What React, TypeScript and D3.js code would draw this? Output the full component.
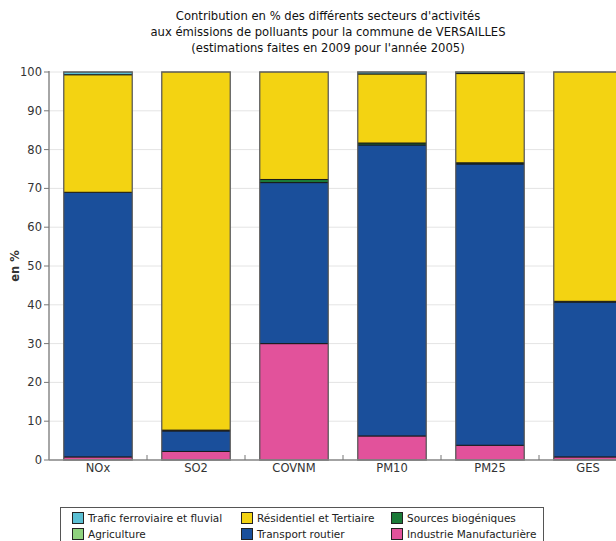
import React, { useEffect, useRef } from "react";
import * as d3 from "d3";

const categories = ["NOx", "SO2", "COVNM", "PM10", "PM25", "GES"];
const industrie = [0.8, 2.2, 30, 6.2, 3.8, 0.8];
const transport = [68.2, 5.3, 41.5, 75.0, 72.5, 39.9];
const biogeniques = [0, 0.2, 0.8, 0.5, 0.3, 0.2];
const residentiel = [30.3, 92.3, 27.7, 17.8, 23.0, 59.1];
const agriculture = [0, 0, 0, 0, 0, 0];
const ferroviaire = [0.7, 0, 0, 0.5, 0.4, 0];
const yTicks = [0, 10, 20, 30, 40, 50, 60, 70, 80, 90, 100];

const seriesNames = [
  "Industrie Manufacturière",
  "Transport routier",
  "Sources biogéniques",
  "Résidentiel et Tertiaire",
  "Agriculture",
  "Trafic ferroviaire et fluvial",
];
const seriesValues = [industrie, transport, biogeniques, residentiel, agriculture, ferroviaire];
const colors: Record<string, string> = {
  "Trafic ferroviaire et fluvial": "#5bbfd3",
  "Agriculture": "#8fd27e",
  "Résidentiel et Tertiaire": "#f3d312",
  "Transport routier": "#1a4f9b",
  "Sources biogéniques": "#1b7a38",
  "Industrie Manufacturière": "#e2529b",
};
const legendOrder = [
  ["Trafic ferroviaire et fluvial", "Agriculture"],
  ["Résidentiel et Tertiaire", "Transport routier"],
  ["Sources biogéniques", "Industrie Manufacturière"],
];

export default function App() {
  const ref = useRef<SVGSVGElement>(null);
  useEffect(() => {
    const svg = d3.select(ref.current);
    svg.selectAll("*").remove();
    const left = 49, top = 72, bottom = 460;
    const x = d3.scaleBand().domain(categories).range([left, left + 98 * categories.length]).paddingInner(0.3).paddingOuter(0.15);
    const y = d3.scaleLinear().domain([0, 100]).range([bottom, top]);
    const font = "DejaVu Sans, sans-serif";

    // gridlines
    svg.append("g").selectAll("line").data(yTicks).join("line")
      .attr("x1", left).attr("x2", 616)
      .attr("y1", (d) => y(d)).attr("y2", (d) => y(d))
      .attr("stroke", "#e4e4e4").attr("stroke-width", 1);

    // stacked bars
    const table = categories.map((c, i) => {
      const o: any = { cat: c };
      seriesNames.forEach((s, k) => (o[s] = seriesValues[k][i]));
      return o;
    });
    const stack = d3.stack<any>().keys(seriesNames)(table);
    const g = svg.append("g");
    stack.forEach((layer) => {
      g.append("g").selectAll("rect").data(layer).join("rect")
        .attr("x", (d: any) => x(d.data.cat)!)
        .attr("width", x.bandwidth())
        .attr("y", (d: any) => y(d[1]))
        .attr("height", (d: any) => Math.max(0, y(d[0]) - y(d[1])))
        .attr("fill", colors[layer.key])
        .attr("stroke", (d: any) => (d[1] - d[0] > 0 ? "#1a1a1a" : "none"))
        .attr("stroke-width", 1);
    });
    // outer bar border
    g.append("g").selectAll("rect").data(categories).join("rect")
      .attr("x", (d) => x(d)!).attr("width", x.bandwidth())
      .attr("y", y(100)).attr("height", y(0) - y(100))
      .attr("fill", "none").attr("stroke", "#777").attr("stroke-width", 1);

    // axes
    svg.append("line").attr("x1", left).attr("x2", left).attr("y1", top - 1).attr("y2", bottom)
      .attr("stroke", "#888").attr("stroke-width", 1.5);
    svg.append("line").attr("x1", left).attr("x2", 616).attr("y1", bottom).attr("y2", bottom)
      .attr("stroke", "#888").attr("stroke-width", 1.5);
    svg.append("g").selectAll("line").data(yTicks).join("line")
      .attr("x1", left - 5).attr("x2", left).attr("y1", (d) => y(d)).attr("y2", (d) => y(d))
      .attr("stroke", "#777");
    svg.append("g").selectAll("text").data(yTicks).join("text")
      .attr("x", left - 7).attr("y", (d) => y(d) + 4)
      .attr("text-anchor", "end").attr("font-family", font).attr("font-size", 11.5).attr("fill", "#333")
      .text((d) => String(d));
    // x boundary ticks
    const bounds = categories.slice(1).map((c) => x(c)! - x.step() * x.paddingInner() / 2);
    svg.append("g").selectAll("line").data(bounds).join("line")
      .attr("x1", (d) => d).attr("x2", (d) => d).attr("y1", bottom - 5).attr("y2", bottom)
      .attr("stroke", "#777");
    svg.append("g").selectAll("text").data(categories).join("text")
      .attr("x", (d) => x(d)! + x.bandwidth() / 2).attr("y", 472)
      .attr("text-anchor", "middle").attr("font-family", font).attr("font-size", 11.5).attr("fill", "#333")
      .text((d) => d);

    // y label
    svg.append("text").attr("transform", "translate(19,266) rotate(-90)")
      .attr("text-anchor", "middle").attr("font-family", font).attr("font-size", 11.5)
      .attr("font-weight", "bold").attr("fill", "#333").text("en %");

    // title
    const titleLines = [
      "Contribution en % des différents secteurs d'activités",
      "aux émissions de polluants pour la commune de VERSAILLES",
      "(estimations faites en 2009 pour l'année 2005)",
    ];
    svg.append("g").selectAll("text").data(titleLines).join("text")
      .attr("x", 328).attr("y", (_, i) => 20 + i * 16)
      .attr("text-anchor", "middle").attr("font-family", font).attr("font-size", 11.6).attr("fill", "#111")
      .text((d) => d);

    // legend
    svg.append("rect").attr("x", 60.5).attr("y", 507.5).attr("width", 483).attr("height", 40)
      .attr("fill", "white").attr("stroke", "#555");
    const colX = [72, 241, 391];
    legendOrder.forEach((col, ci) => {
      col.forEach((name, ri) => {
        const yy = 512 + ri * 16;
        svg.append("rect").attr("x", colX[ci] + 0.5).attr("y", yy + 0.5).attr("width", 11).attr("height", 11)
          .attr("fill", colors[name]).attr("stroke", "#222");
        svg.append("text").attr("x", colX[ci] + 16).attr("y", yy + 10)
          .attr("font-family", font).attr("font-size", 10.5).attr("fill", "#222").text(name);
      });
    });
  }, []);
  return (
    <svg ref={ref} width={616} height={541}
      style={{ position: "absolute", left: 0, top: 0, background: "white" }} />
  );
}
